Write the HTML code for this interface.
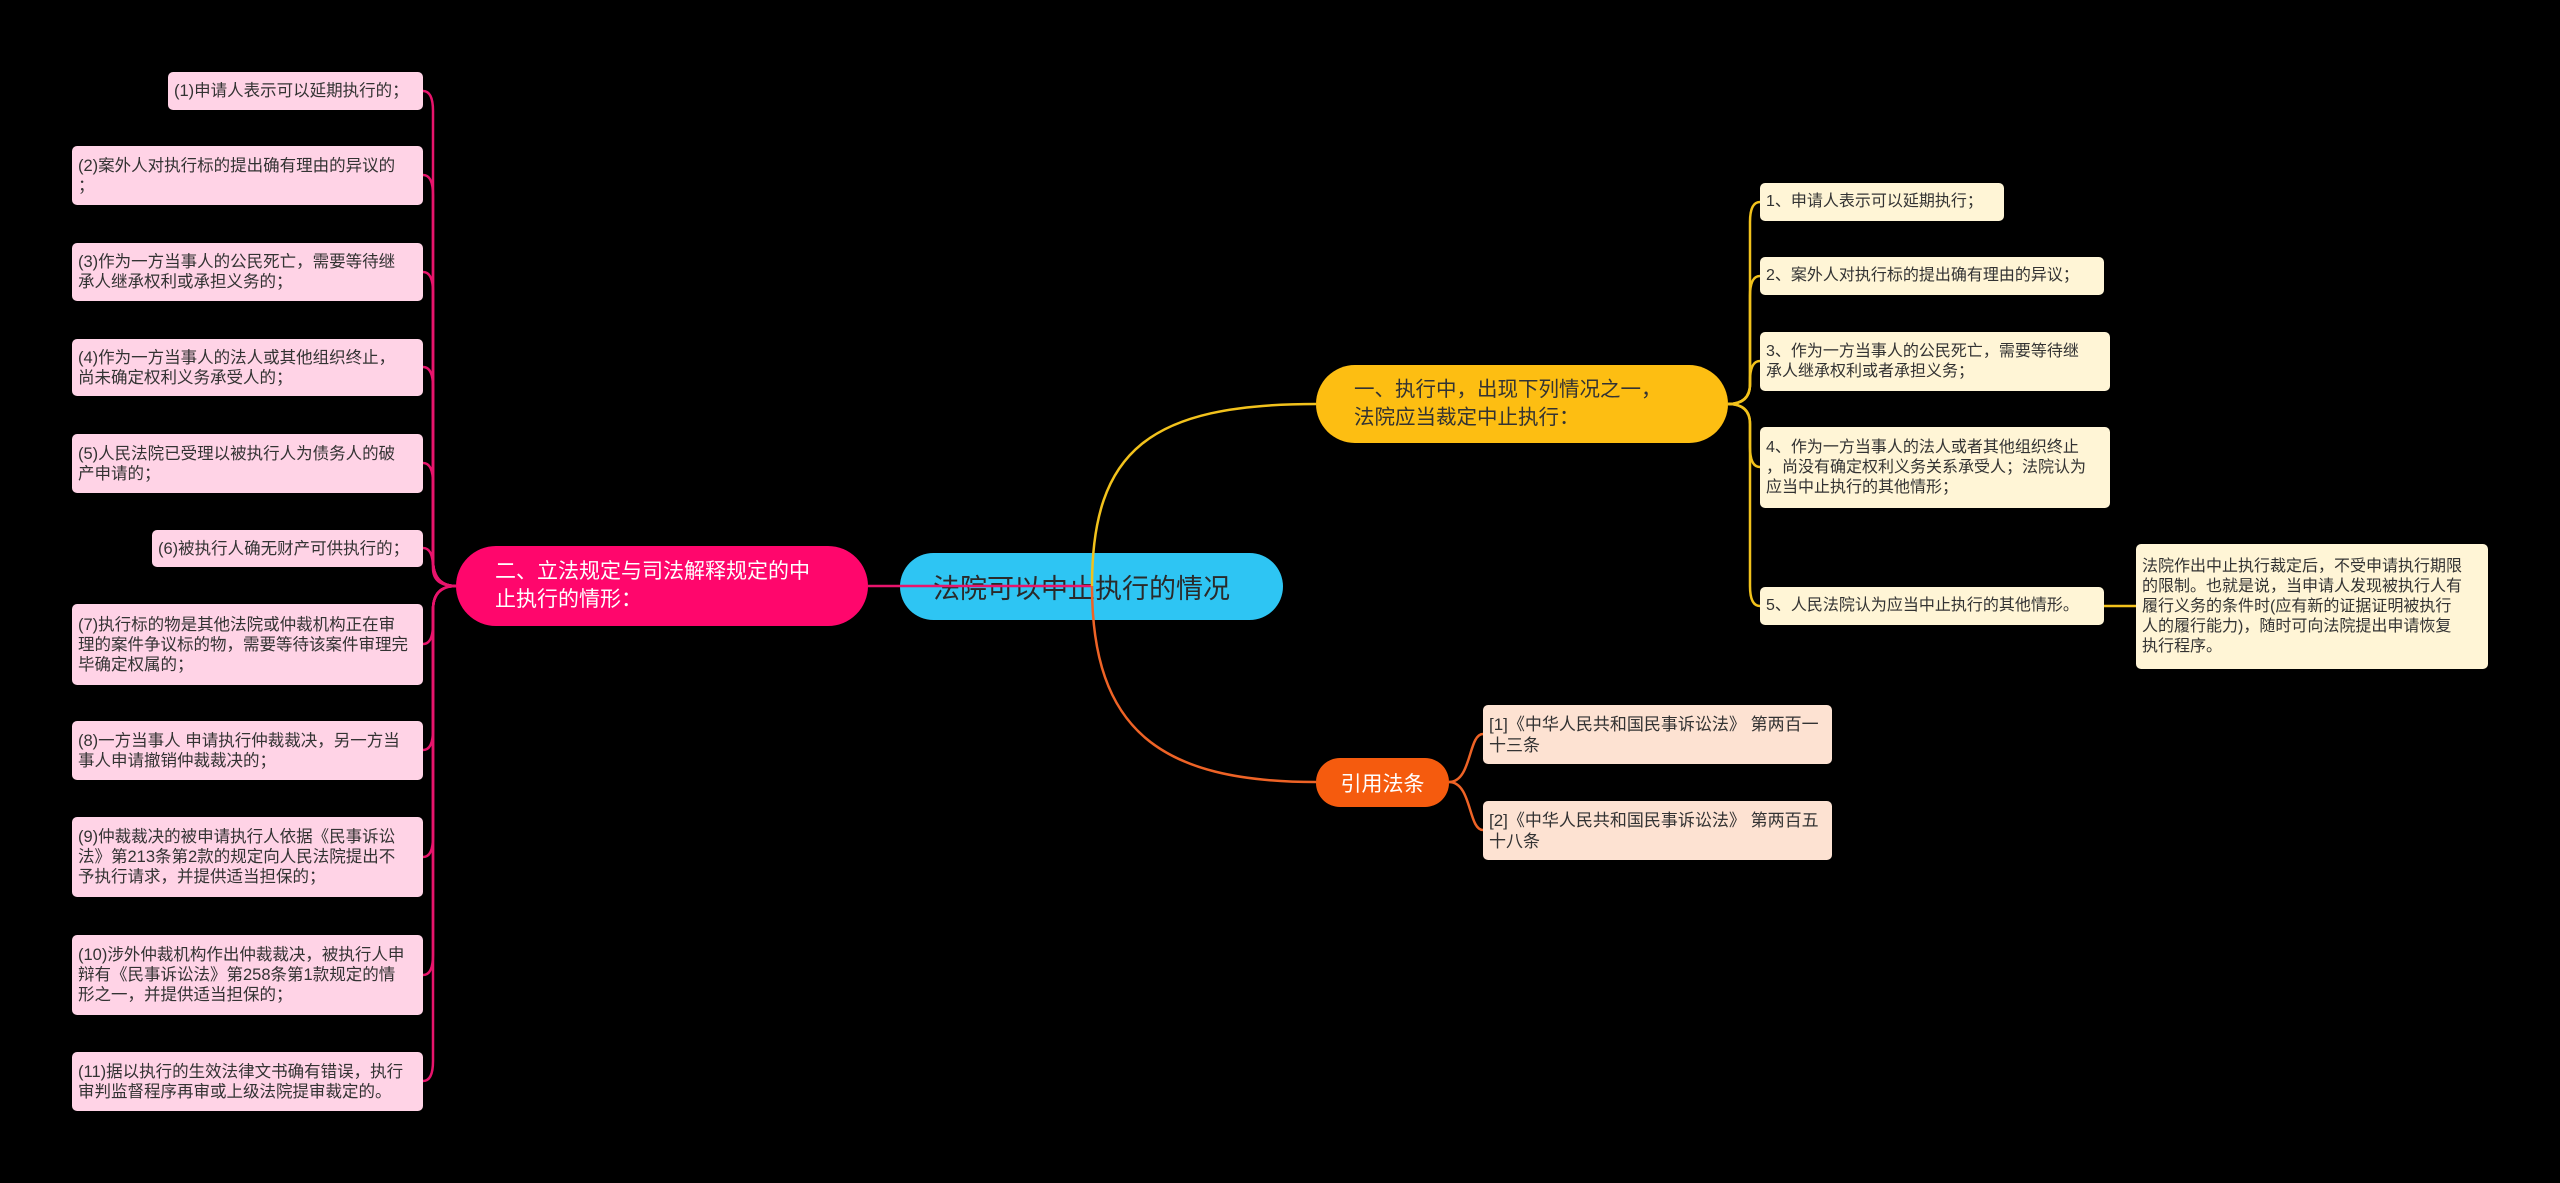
<!DOCTYPE html>
<html><head><meta charset="utf-8"><style>
html,body{margin:0;padding:0;background:#000;}
body{width:2560px;height:1183px;position:relative;overflow:hidden;font-family:"Liberation Sans","Noto Sans CJK SC",sans-serif;}
.n{position:absolute;box-sizing:border-box;display:flex;flex-direction:column;justify-content:center;color:#333;}
.pl{background:#FFD3E6;border-radius:5px;font-size:16.5px;line-height:20px;padding:0 6px;}
.yl{background:#FFF5D6;border-radius:5px;font-size:16px;line-height:20px;padding:0 6px;}
.ol{background:#FDE2D2;border-radius:5px;font-size:17px;line-height:21px;padding:0 6px;}
svg{position:absolute;left:0;top:0;}
</style></head><body>

<div class="n" style="left:900px;top:553px;width:383px;height:67px;background:#2EC5F3;border-radius:34px;font-size:27px;padding-left:33px;color:#2a2a2a;">法院可以中止执行的情况</div>
<div class="n" style="left:456px;top:546px;width:412px;height:80px;background:#FF066C;border-radius:40px;font-size:21px;line-height:28px;color:#fff;padding-left:39px;">二、立法规定与司法解释规定的中<br>止执行的情形：</div>
<div class="n" style="left:1316px;top:365px;width:412px;height:78px;background:#FDBE12;border-radius:39px;font-size:20.5px;line-height:28px;padding-left:38px;">一、执行中，出现下列情况之一，<br>法院应当裁定中止执行：</div>
<div class="n" style="left:1316px;top:758px;width:133px;height:49px;background:#F55B0E;border-radius:24px;font-size:21px;color:#fff;align-items:center;">引用法条</div>

<div class="n pl" style="left:168px;top:72px;width:255px;height:38px;">(1)申请人表示可以延期执行的；</div>
<div class="n pl" style="left:72px;top:146px;width:351px;height:59px;">(2)案外人对执行标的提出确有理由的异议的<br>；</div>
<div class="n pl" style="left:72px;top:243px;width:351px;height:58px;">(3)作为一方当事人的公民死亡，需要等待继<br>承人继承权利或承担义务的；</div>
<div class="n pl" style="left:72px;top:339px;width:351px;height:57px;">(4)作为一方当事人的法人或其他组织终止，<br>尚未确定权利义务承受人的；</div>
<div class="n pl" style="left:72px;top:434px;width:351px;height:59px;">(5)人民法院已受理以被执行人为债务人的破<br>产申请的；</div>
<div class="n pl" style="left:152px;top:530px;width:271px;height:37px;">(6)被执行人确无财产可供执行的；</div>
<div class="n pl" style="left:72px;top:604px;width:351px;height:81px;">(7)执行标的物是其他法院或仲裁机构正在审<br>理的案件争议标的物，需要等待该案件审理完<br>毕确定权属的；</div>
<div class="n pl" style="left:72px;top:721px;width:351px;height:59px;">(8)一方当事人 申请执行仲裁裁决，另一方当<br>事人申请撤销仲裁裁决的；</div>
<div class="n pl" style="left:72px;top:817px;width:351px;height:80px;">(9)仲裁裁决的被申请执行人依据《民事诉讼<br>法》第213条第2款的规定向人民法院提出不<br>予执行请求，并提供适当担保的；</div>
<div class="n pl" style="left:72px;top:935px;width:351px;height:80px;">(10)涉外仲裁机构作出仲裁裁决，被执行人申<br>辩有《民事诉讼法》第258条第1款规定的情<br>形之一，并提供适当担保的；</div>
<div class="n pl" style="left:72px;top:1052px;width:351px;height:59px;">(11)据以执行的生效法律文书确有错误，执行<br>审判监督程序再审或上级法院提审裁定的。</div>

<div class="n yl" style="left:1760px;top:183px;width:244px;height:38px;">1、申请人表示可以延期执行；</div>
<div class="n yl" style="left:1760px;top:257px;width:344px;height:38px;">2、案外人对执行标的提出确有理由的异议；</div>
<div class="n yl" style="left:1760px;top:332px;width:350px;height:59px;">3、作为一方当事人的公民死亡，需要等待继<br>承人继承权利或者承担义务；</div>
<div class="n yl" style="left:1760px;top:427px;width:350px;height:81px;">4、作为一方当事人的法人或者其他组织终止<br>，尚没有确定权利义务关系承受人；法院认为<br>应当中止执行的其他情形；</div>
<div class="n yl" style="left:1760px;top:587px;width:344px;height:38px;">5、人民法院认为应当中止执行的其他情形。</div>
<div class="n yl" style="left:2136px;top:544px;width:352px;height:125px;">法院作出中止执行裁定后，不受申请执行期限<br>的限制。也就是说，当申请人发现被执行人有<br>履行义务的条件时(应有新的证据证明被执行<br>人的履行能力)，随时可向法院提出申请恢复<br>执行程序。</div>

<div class="n ol" style="left:1483px;top:705px;width:349px;height:59px;">[1]《中华人民共和国民事诉讼法》 第两百一<br>十三条</div>
<div class="n ol" style="left:1483px;top:801px;width:349px;height:59px;">[2]《中华人民共和国民事诉讼法》 第两百五<br>十八条</div>

<svg width="2560" height="1183" viewBox="0 0 2560 1183">
<g fill="none" stroke-width="2.5">
<g stroke="#E8146C">
<path d="M868,586 L1092,586"/>
<path d="M456,586 Q433,586 433,560 L433,111 Q433,91 423,91"/>
<path d="M456,586 Q433,586 433,560 L433,195 Q433,175 423,175"/>
<path d="M456,586 Q433,586 433,560 L433,292 Q433,272 423,272"/>
<path d="M456,586 Q433,586 433,560 L433,387 Q433,367 423,367"/>
<path d="M456,586 Q433,586 433,560 L433,483 Q433,463 423,463"/>
<path d="M456,586 Q433,586 433,568 Q433,548 423,548"/>
<path d="M456,586 Q433,586 433,610 L433,624 Q433,644 423,644"/>
<path d="M456,586 Q433,586 433,610 L433,730 Q433,750 423,750"/>
<path d="M456,586 Q433,586 433,610 L433,837 Q433,857 423,857"/>
<path d="M456,586 Q433,586 433,610 L433,955 Q433,975 423,975"/>
<path d="M456,586 Q433,586 433,610 L433,1061 Q433,1081 423,1081"/>
</g>
<g stroke="#F2C21C">
<path d="M1092,586 C1092,450 1150,404 1316,404"/>
<path d="M1728,404 Q1750,404 1750,384 L1750,222 Q1750,202 1760,202"/>
<path d="M1728,404 Q1750,404 1750,384 L1750,296 Q1750,276 1760,276"/>
<path d="M1728,404 Q1750,404 1750,384 L1750,381 Q1750,361 1760,361"/>
<path d="M1728,404 Q1750,404 1750,424 L1750,447 Q1750,467 1760,467"/>
<path d="M1728,404 Q1750,404 1750,424 L1750,586 Q1750,606 1760,606"/>
<path d="M2104,606 L2136,606"/>
</g>
<g stroke="#EE6326">
<path d="M1092,586 C1092,730 1160,782 1316,782"/>
<path d="M1449,782 C1472,782 1468,734 1483,734"/>
<path d="M1449,782 C1472,782 1468,830 1483,830"/>
</g>
</g>
</svg>
</body></html>
